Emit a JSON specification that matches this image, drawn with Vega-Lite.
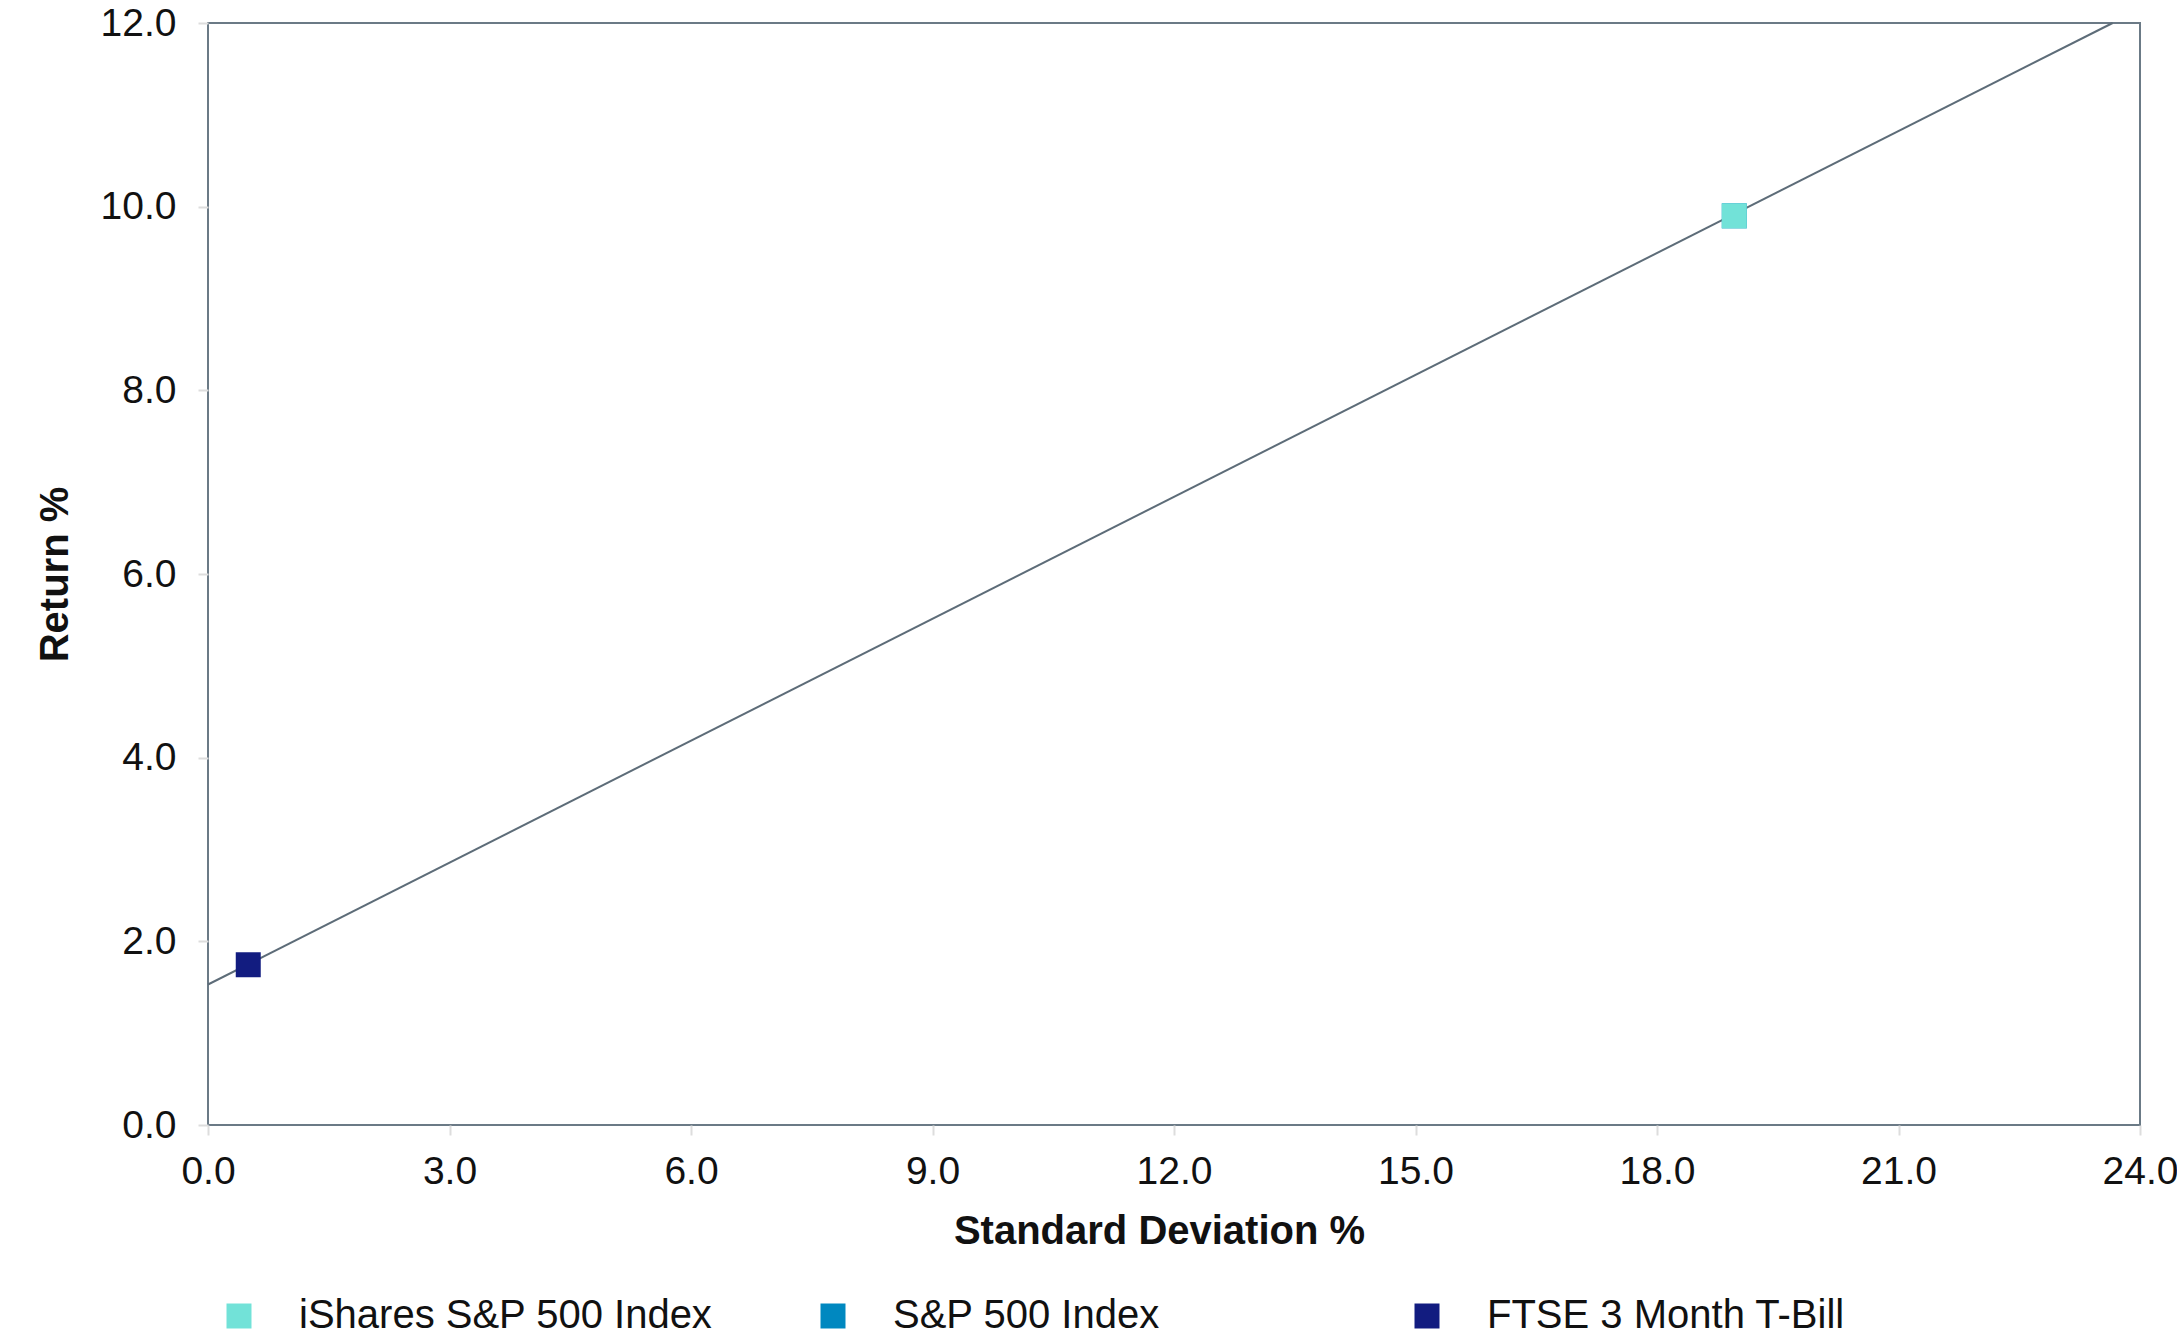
{
  "$schema": "https://vega.github.io/schema/vega-lite/v6.json",
  "width": 1932,
  "height": 1102,
  "autosize": "none",
  "padding": {"left": 208, "top": 23, "right": 37, "bottom": 213},
  "background": "white",
  "config": {
    "font": "Liberation Sans",
    "view": {"stroke": "#6b7a86", "strokeWidth": 2},
    "axis": {
      "grid": false,
      "domain": false,
      "tickColor": "#dddddd",
      "tickSize": 10,
      "tickWidth": 2,
      "labelFont": "Liberation Sans",
      "labelFontSize": 39,
      "labelColor": "#111111",
      "titleFont": "Liberation Sans",
      "titleFontSize": 40,
      "titleFontWeight": "bold",
      "titleColor": "#111111"
    }
  },
  "datasets": {
    "points": [
      {"series": "S&P 500 Index", "sd": 18.96, "ret": 9.9},
      {"series": "iShares S&P 500 Index", "sd": 18.96, "ret": 9.9},
      {"series": "FTSE 3 Month T-Bill", "sd": 0.5, "ret": 1.745}
    ],
    "cml": [
      {"sd": 0, "ret": 1.53, "sd2": 23.66, "ret2": 12.0}
    ]
  },
  "layer": [
    {
      "data": {"name": "cml"},
      "mark": {"type": "rule", "color": "#5d6c78", "strokeWidth": 2},
      "encoding": {
        "x": {
          "field": "sd", "type": "quantitative",
          "scale": {"domain": [0, 24], "nice": false, "zero": true},
          "axis": {
            "title": "Standard Deviation %",
            "values": [0, 3, 6, 9, 12, 15, 18, 21, 24],
            "format": ".1f",
            "labelPadding": 17,
            "titlePadding": 20,
            "titleX": 951,
            "labelFlush": false
          }
        },
        "y": {
          "field": "ret", "type": "quantitative",
          "scale": {"domain": [0, 12], "nice": false},
          "axis": {
            "title": "Return %",
            "values": [0, 2, 4, 6, 8, 10, 12],
            "format": ".1f",
            "labelPadding": 22,
            "titlePadding": 25,
            "labelFlush": false
          }
        },
        "x2": {"field": "sd2"},
        "y2": {"field": "ret2"}
      }
    },
    {
      "data": {"name": "points"},
      "mark": {"type": "point", "shape": "square", "filled": true, "opacity": 1},
      "encoding": {
        "x": {"field": "sd", "type": "quantitative"},
        "y": {"field": "ret", "type": "quantitative"},
        "color": {
          "field": "series", "type": "nominal",
          "scale": {
            "domain": ["iShares S&P 500 Index", "S&P 500 Index", "FTSE 3 Month T-Bill"],
            "range": ["#72e2d8", "#0088c0", "#121c80"]
          },
          "legend": {
            "title": null,
            "orient": "none",
            "direction": "horizontal",
            "columns": 3,
            "gridAlign": "all",
            "legendX": 11,
            "legendY": 1273,
            "symbolType": "square",
            "symbolSize": 625,
            "symbolStrokeWidth": 0,
            "symbolOpacity": 1,
            "labelFontSize": 40,
            "labelFont": "Liberation Sans",
            "labelColor": "#111111",
            "labelOffset": 40,
            "labelLimit": 700,
            "columnPadding": 100
          }
        },
        "size": {
          "field": "series", "type": "nominal",
          "scale": {
            "domain": ["iShares S&P 500 Index", "S&P 500 Index", "FTSE 3 Month T-Bill"],
            "range": [625, 625, 441]
          },
          "legend": null
        },
        "order": {"value": 0}
      }
    }
  ]
}
